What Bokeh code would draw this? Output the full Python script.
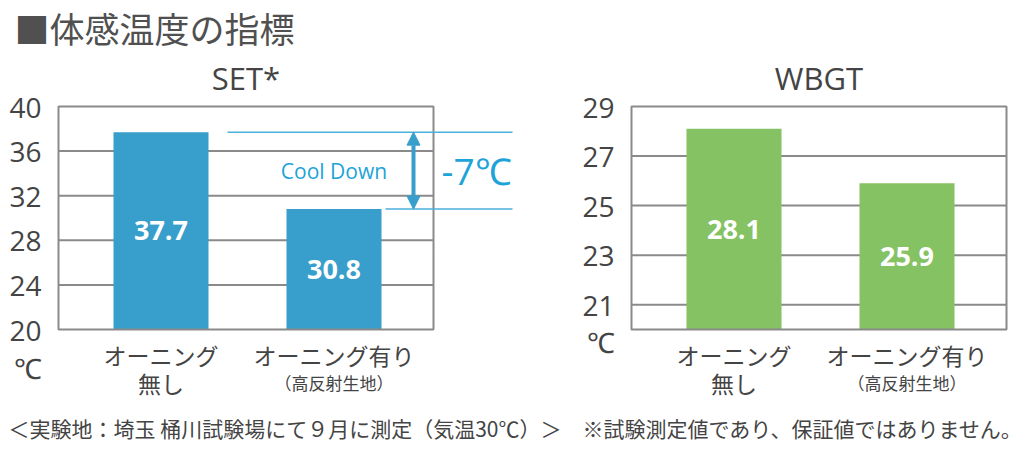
from bokeh.plotting import figure
from bokeh.layouts import column, row
from bokeh.models import Range1d, FixedTicker, Label, Arrow, NormalHead, ColumnDataSource
from bokeh.core.properties import value
from bokeh.embed import file_html
from bokeh.resources import INLINE

# ---- data ----
main_title = "■体感温度の指標"
set_title = "SET*"
wbgt_title = "WBGT"
cat_line1 = ["オーニング", "オーニング有り"]
cat_line2 = ["無し", "（高反射生地）"]
set_values = [37.7, 30.8]
wbgt_values = [28.1, 25.9]
set_ticks = [20, 24, 28, 32, 36, 40]
wbgt_ticks = [21, 23, 25, 27, 29]
unit = "℃"
cool_text = "Cool Down"
diff_text = "-7℃"
footer = "＜実験地：埼玉 桶川試験場にて９月に測定（気温30℃）＞　※試験測定値であり、保証値ではありません。"

# ---- style / layout ----
JP = "Noto Sans CJK JP"
NUM = "Open Sans"
TXT = "#444444"
GRID = "#8a8a8a"
BLUE = "#389ecb"
GREEN = "#84c263"
CYAN = "#1ea3d8"
LINE = "#4cb0dc"

W_TOTAL = 1030
HEAD_H = 54
ROW_T, ROW_B = 54, 404
FOOT_H = 48
BOX_T, BOX_B = 106, 329
BOX_W = 375
BAR0_OFF = 102.5      # px from box left to first bar centre
UNIT_PX = 173.0       # px between bar centres
BAR_W = 95 / UNIT_PX


def make_chart(values, ticks, ymin, ymax, color, fig_left, fig_w, axis_w, box_l, title,
               unit_py):
    fl = fig_left + axis_w
    fr = fig_left + fig_w
    ipx = lambda px: (px - box_l - BAR0_OFF) / UNIT_PX
    ppu = (BOX_B - BOX_T) / (ymax - ymin)
    ipy = lambda py: ymin + (BOX_B - py) / ppu

    p = figure(width=fig_w, height=ROW_B - ROW_T,
               x_range=Range1d(ipx(fl), ipx(fr)), y_range=Range1d(ipy(ROW_B), ipy(ROW_T)),
               output_backend="svg", toolbar_location=None, x_axis_location=None,
               min_border_left=axis_w, min_border_right=0, min_border_top=0, min_border_bottom=0,
               background_fill_color="white", border_fill_color="white")
    p.outline_line_color = None
    p.xgrid.visible = False
    p.ygrid.visible = False

    unit_v = ipy(unit_py)
    ax = p.yaxis[0]
    ax.ticker = FixedTicker(ticks=ticks + [unit_v])
    ax.major_label_overrides = {unit_v: unit}
    ax.axis_line_color = None
    ax.major_tick_line_color = None
    ax.minor_tick_line_color = None
    ax.major_label_standoff = 3
    ax.major_label_text_font = NUM
    ax.major_label_text_font_size = "28px"
    ax.major_label_text_color = TXT

    bl, br = ipx(box_l), ipx(box_l + BOX_W)
    inner = [t for t in ticks if ymin < t < ymax]
    p.segment(x0=[bl] * len(inner), x1=[br] * len(inner), y0=inner, y1=inner,
              line_color=GRID, line_width=2)

    xs = list(range(len(values)))
    src = ColumnDataSource(dict(x=xs, top=values, mid=[(ymin + v) / 2 for v in values],
                                lab=[f"{v:.1f}" for v in values]))
    p.vbar(x="x", top="top", bottom=ymin, width=BAR_W, source=src, fill_color=color, line_color=None)
    p.quad(left=[bl], right=[br], bottom=[ymin], top=[ymax], fill_color=None,
           line_color=GRID, line_width=2)
    p.text(x="x", y="mid", text="lab", source=src, text_color="white", text_font=value(NUM),
           text_font_style="bold", text_font_size="27px", text_align="center", text_baseline="middle")

    p.add_layout(Label(x=(bl + br) / 2, y=ipy(77), text=title, text_align="center",
                       text_baseline="middle", text_font=NUM, text_font_size="31px", text_color=TXT))
    for i in xs:
        p.add_layout(Label(x=i, y=ipy(354), text=cat_line1[i], text_align="center",
                           text_baseline="middle", text_font=JP, text_font_size="23px", text_color=TXT))
        p.add_layout(Label(x=i, y=ipy(382), text=cat_line2[i], text_align="center",
                           text_baseline="middle", text_font=JP,
                           text_font_size="23px" if i == 0 else "17px", text_color=TXT))
    return p, ipx, ipy


p1, ipx1, ipy1 = make_chart(set_values, set_ticks, 20, 40, BLUE, 0, 555, 50, 58, set_title, 367)
p2, ipx2, ipy2 = make_chart(wbgt_values, wbgt_ticks, 20, 29, GREEN, 555, W_TOTAL - 555, 68, 631,
                            wbgt_title, 341)

# cool-down annotation on SET*
hi, lo = set_values
mid = (hi + lo) / 2
line_end = ipx1(512)
p1.add_layout(Arrow(x_start=0 + BAR_W / 2 + 19 / UNIT_PX, y_start=hi, x_end=line_end, y_end=hi,
                    start=None, end=None, line_color=LINE, line_width=1.5))
p1.add_layout(Arrow(x_start=1 + BAR_W / 2 + 4 / UNIT_PX, y_start=lo, x_end=line_end, y_end=lo,
                    start=None, end=None, line_color=LINE, line_width=1.5))
ax_x = ipx1(413)
p1.add_layout(Arrow(x_start=ax_x, y_start=lo, x_end=ax_x, y_end=hi, line_color=BLUE, line_width=4,
                    start=NormalHead(size=13, fill_color=BLUE, line_color=BLUE),
                    end=NormalHead(size=13, fill_color=BLUE, line_color=BLUE)))
p1.add_layout(Label(x=1.0, y=mid, text=cool_text, text_align="center", text_baseline="middle",
                    text_font=NUM, text_font_size="21px", text_color=CYAN))
p1.add_layout(Label(x=ipx1(476), y=mid, text=diff_text, text_align="center", text_baseline="middle",
                    text_font=NUM, text_font_size="37px", text_color=CYAN))


def text_strip(h, text, x, y_from_top, size, color):
    f = figure(width=W_TOTAL, height=h, x_range=Range1d(0, W_TOTAL), y_range=Range1d(0, h),
               output_backend="svg", toolbar_location=None, x_axis_location=None,
               y_axis_location=None, min_border=0, outline_line_color=None,
               background_fill_color="white", border_fill_color="white")
    f.xgrid.visible = False
    f.ygrid.visible = False
    f.add_layout(Label(x=x, y=h - y_from_top, text=text, text_align="left", text_baseline="middle",
                       text_font=JP, text_font_size=size, text_color=color))
    return f


header = text_strip(HEAD_H, main_title, 14, 27, "35px", "#505050")
foot = text_strip(FOOT_H, footer, 8, 427 - ROW_B, "21px", TXT)

layout = column(header, row(p1, p2), foot)
open("out.html", "w").write(file_html(layout, INLINE))
